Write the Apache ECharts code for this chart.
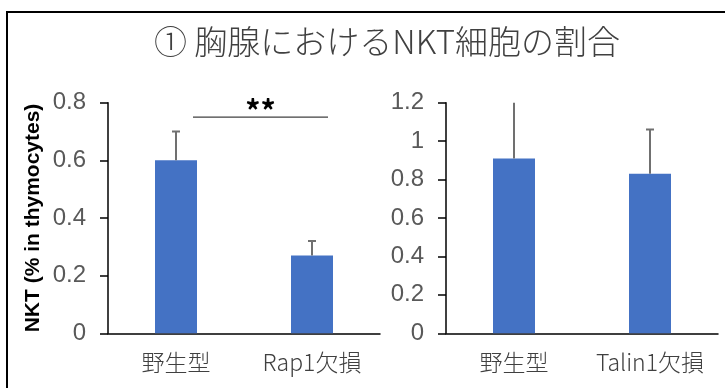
<!DOCTYPE html>
<html>
<head>
<meta charset="utf-8">
<script src="https://cdn.jsdelivr.net/npm/echarts@6/dist/echarts.min.js"></script>
<style>html,body{margin:0;padding:0;background:#fff}#c{width:725px;height:388px}</style>
</head>
<body>
<div id="c"></div>
<script>
const titleText = '① 胸腺におけるNKT細胞の割合';
const yAxisName = 'NKT (% in thymocytes)';
const categoriesLeft = ['野生型', 'Rap1欠損'];
const valuesLeft = [0.60, 0.27];
const errorTopLeft = [0.70, 0.32];
const categoriesRight = ['野生型', 'Talin1欠損'];
const valuesRight = [0.91, 0.83];
const errorTopRight = [1.25, 1.06];
const leftTicks = { min: 0, max: 0.8, interval: 0.2 };
const rightTicks = { min: 0, max: 1.2, interval: 0.2 };
const significance = { label: '**', y: 0.75, labelY: 0.79 };

const chart = echarts.init(document.getElementById('c'));
const BAR = '#4472C4';
const ERR = '#707070';

function errRender() {
  return function (params, api) {
    const i = api.value(0);
    const base = api.coord([i, api.value(1)]);
    const top = api.coord([i, api.value(2)]);
    const cap = 4;
    return {
      type: 'group',
      children: [
        { type: 'line', shape: { x1: base[0], y1: base[1], x2: top[0], y2: top[1] }, style: { stroke: ERR, lineWidth: 2 } },
        { type: 'line', shape: { x1: top[0] - cap, y1: top[1], x2: top[0] + cap, y2: top[1] }, style: { stroke: ERR, lineWidth: 2 } }
      ]
    };
  };
}

const commonX = {
  type: 'category',
  axisLine: { lineStyle: { color: '#000', width: 1.5 } },
  axisTick: { show: false },
  axisLabel: { interval: 0, hideOverlap: false, color: '#404040', fontSize: 23, margin: 17, fontFamily: 'Noto Sans CJK JP', fontWeight: 300 }
};
const commonY = {
  type: 'value',
  axisLine: { show: true, lineStyle: { color: '#000', width: 1.5 } },
  axisTick: { show: true, length: 8, lineStyle: { color: '#000', width: 1.5 } },
  axisLabel: { color: '#595959', fontSize: 24, margin: 22, fontFamily: 'Liberation Sans' },
  splitLine: { show: false }
};

chart.setOption({
  animation: false,
  backgroundColor: '#fff',
  title: {
    text: titleText, left: 387, top: 25, textAlign: 'center', padding: 0,
    textStyle: { fontSize: 33, fontWeight: 300, color: '#404040', fontFamily: 'Noto Sans CJK JP' }
  },
  graphic: [{
    type: 'rect', shape: { x: 7, y: 12, width: 740, height: 400 },
    style: { fill: 'none', stroke: '#000', lineWidth: 2 }, silent: true
  }],
  grid: [
    { left: 108, width: 272, top: 102.7, height: 230.6 },
    { left: 446, width: 272, top: 102.7, height: 230.6 }
  ],
  xAxis: [
    Object.assign({ gridIndex: 0, data: categoriesLeft }, commonX),
    Object.assign({ gridIndex: 1, data: categoriesRight }, commonX)
  ],
  yAxis: [
    Object.assign({ gridIndex: 0, min: leftTicks.min, max: leftTicks.max, interval: leftTicks.interval,
      name: yAxisName, nameLocation: 'middle', nameGap: 64, nameRotate: 90,
      nameTextStyle: { fontSize: 21, fontWeight: 'bold', color: '#000', fontFamily: 'Liberation Sans' } }, commonY),
    Object.assign({ gridIndex: 1, min: rightTicks.min, max: rightTicks.max, interval: rightTicks.interval }, commonY)
  ],
  series: [
    { type: 'bar', xAxisIndex: 0, yAxisIndex: 0, data: valuesLeft, barWidth: 42, itemStyle: { color: BAR } },
    { type: 'bar', xAxisIndex: 1, yAxisIndex: 1, data: valuesRight, barWidth: 42, itemStyle: { color: BAR } },
    { type: 'custom', xAxisIndex: 0, yAxisIndex: 0, clip: true, renderItem: errRender(),
      data: valuesLeft.map((v, i) => [i, v, errorTopLeft[i]]), z: 3 },
    { type: 'custom', xAxisIndex: 1, yAxisIndex: 1, clip: true, renderItem: errRender(),
      data: valuesRight.map((v, i) => [i, v, errorTopRight[i]]), z: 3 },
    { type: 'custom', xAxisIndex: 0, yAxisIndex: 0, clip: false, z: 4,
      data: [[0, 1, significance.y, significance.labelY]],
      renderItem: function (params, api) {
        const a = api.coord([api.value(0), api.value(2)]);
        const b = api.coord([api.value(1), api.value(2)]);
        const t = api.coord([api.value(0), api.value(3)]);
        const x1 = a[0] + 17, x2 = b[0] + 16;
        return { type: 'group', children: [
          { type: 'line', shape: { x1: x1, y1: a[1], x2: x2, y2: b[1] }, style: { stroke: '#404040', lineWidth: 1.2 } },
          { type: 'text', style: { text: significance.label, x: (x1 + x2) / 2, y: t[1] + 5, align: 'center', verticalAlign: 'middle',
            fontSize: 30, fontWeight: 'bold', fill: '#000', fontFamily: 'Noto Sans CJK JP' } }
        ] };
      }
    }
  ]
});
</script>
</body>
</html>
